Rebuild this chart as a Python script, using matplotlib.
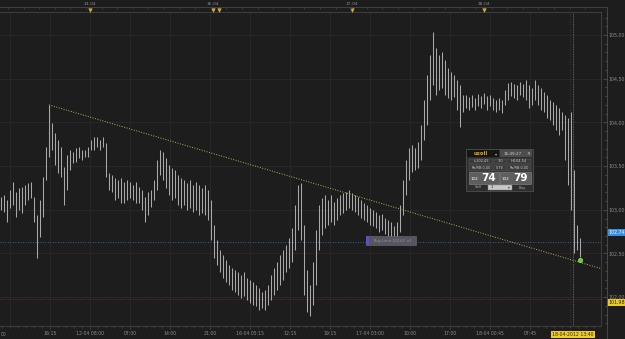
import numpy as np
import matplotlib
matplotlib.use("Agg")
import matplotlib.pyplot as plt
from matplotlib.patches import Rectangle
from matplotlib.ticker import FixedLocator, FuncFormatter
from matplotlib.transforms import blended_transform_factory

# USOIL bars, high / low (one entry per ~3 px column)
bar_high = [
    103.15, 103.17, 103.11, 103.23, 103.32, 103.20, 103.25, 103.26, 103.28, 103.31,
    103.32, 103.15, 102.94, 103.11, 103.38, 103.72, 104.20, 103.99, 103.88, 103.80,
    103.72, 103.49, 103.63, 103.68, 103.66, 103.71, 103.72, 103.68, 103.68, 103.72,
    103.80, 103.83, 103.83, 103.80, 103.83, 103.76, 103.42, 103.40, 103.36, 103.34,
    103.36, 103.32, 103.34, 103.32, 103.28, 103.32, 103.26, 103.23, 103.15, 103.20,
    103.23, 103.34, 103.57, 103.68, 103.66, 103.59, 103.51, 103.48, 103.46, 103.40,
    103.36, 103.34, 103.31, 103.34, 103.28, 103.32, 103.28, 103.25, 103.28, 103.23,
    103.11, 102.83, 102.65, 102.54, 102.48, 102.43, 102.37, 102.33, 102.31, 102.29,
    102.25, 102.29, 102.22, 102.20, 102.17, 102.14, 102.11, 102.06, 102.08, 102.14,
    102.25, 102.33, 102.40, 102.48, 102.54, 102.60, 102.68, 102.79, 103.06, 103.28,
    103.31, 102.83, 102.31, 102.14, 102.40, 102.77, 103.06, 103.13, 103.17, 103.11,
    103.17, 103.09, 103.13, 103.17, 103.19, 103.20, 103.23, 103.19, 103.17, 103.15,
    103.11, 103.08, 103.06, 103.02, 103.00, 102.98, 102.94, 102.95, 102.91, 102.88,
    102.86, 102.81, 102.86, 103.06, 103.34, 103.57, 103.71, 103.74, 103.71, 103.78,
    103.97, 104.26, 104.54, 104.77, 105.03, 104.85, 104.77, 104.81, 104.71, 104.62,
    104.58, 104.54, 104.49, 104.43, 104.31, 104.31, 104.29, 104.31, 104.28, 104.32,
    104.30, 104.34, 104.30, 104.31, 104.28, 104.26, 104.28, 104.26, 104.37, 104.45,
    104.46, 104.44, 104.43, 104.46, 104.44, 104.49, 104.43, 104.39, 104.49, 104.43,
    104.39, 104.35, 104.31, 104.26, 104.23, 104.20, 104.16, 104.12, 104.08, 104.05,
    104.12, 103.46, 102.83, 102.68,
]
bar_low = [
    103.00, 102.98, 102.86, 103.02, 103.06, 102.92, 103.00, 102.96, 103.06, 103.11,
    103.13, 102.86, 102.45, 102.69, 102.92, 103.34, 103.60, 103.68, 103.51, 103.42,
    103.38, 103.06, 103.23, 103.46, 103.53, 103.55, 103.59, 103.57, 103.60, 103.60,
    103.68, 103.68, 103.72, 103.68, 103.72, 103.38, 103.23, 103.20, 103.11, 103.13,
    103.08, 103.08, 103.11, 103.13, 103.11, 103.08, 103.08, 103.00, 102.86, 102.94,
    103.03, 103.11, 103.23, 103.40, 103.34, 103.25, 103.17, 103.11, 103.13, 103.06,
    103.02, 103.06, 103.00, 103.02, 102.98, 103.00, 102.94, 102.96, 102.94, 102.88,
    102.65, 102.45, 102.37, 102.29, 102.22, 102.17, 102.14, 102.08, 102.06, 102.03,
    101.99, 102.01, 101.97, 101.93, 101.91, 101.90, 101.85, 101.88, 101.85, 101.91,
    101.97, 102.03, 102.08, 102.14, 102.20, 102.29, 102.33, 102.40, 102.54, 102.77,
    102.65, 102.03, 101.83, 101.78, 101.91, 102.14, 102.54, 102.71, 102.79, 102.83,
    102.86, 102.83, 102.88, 102.94, 102.96, 103.00, 103.02, 103.00, 102.98, 102.94,
    102.91, 102.88, 102.86, 102.83, 102.81, 102.79, 102.75, 102.77, 102.72, 102.70,
    102.68, 102.63, 102.65, 102.75, 102.94, 103.17, 103.34, 103.43, 103.46, 103.48,
    103.57, 103.80, 103.97, 104.26, 104.43, 104.31, 104.37, 104.39, 104.31, 104.28,
    104.26, 104.29, 104.14, 103.95, 104.12, 104.16, 104.14, 104.18, 104.14, 104.19,
    104.16, 104.21, 104.14, 104.19, 104.14, 104.12, 104.14, 104.11, 104.20, 104.26,
    104.30, 104.28, 104.26, 104.31, 104.29, 104.26, 104.16, 104.20, 104.26, 104.20,
    104.14, 104.12, 104.05, 104.03, 103.97, 103.91, 103.86, 103.91, 103.57, 103.28,
    103.00, 102.51, 102.54, 102.46,
]

# time axis, in bar index units
time_labels = ["16:15", "12-04 08:00", "07:00", "14:00", "21:00", "16-04 05:15",
               "12:15", "19:15", "17-04 03:00", "10:00", "17:00", "18-04 00:45", "07:45"]
first_grid = 3
grid_step = 40 / 3
day_labels = ["13-04", "16-04", "17-04", "18-04"]
day_pos = [29.67, 70.67, 117, 161]
news_pos = [29.67, 70.67, 72.67, 117, 161]
cursor_pos = 190.67
cursor_label = "18-04-2012 13:40"

price_ticks = [102.0, 102.5, 103.0, 103.5, 104.0, 104.5, 105.0]
trend_x = [16, 199.7]
trend_y = [104.20, 102.33]
alert_level = 102.63
stop_level = 101.98
bid_price = 102.74
stop_label = "101,98"

BG = "#1d1d1d"
GRID = "#2a2a2a"
TXT = "#8c8c8c"

fig = plt.figure(figsize=(6.25, 3.39), dpi=100, facecolor=BG)
ax = fig.add_axes([0, 13 / 339, 601 / 625, 314 / 339])
ax.set_facecolor(BG)

idx = np.arange(len(bar_high))
ax.set_xlim(-1 / 3, 200)
ax.set_ylim(101.67, 105.263)

grid_pos = [first_grid + k * grid_step for k in range(15)]
for g in grid_pos:
    ax.axvline(g, color=GRID, lw=0.6, zorder=0)
for p in price_ticks:
    ax.axhline(p, color=GRID, lw=0.6, zorder=0)

ax.vlines(idx, bar_low, bar_high, color="#a9a9a9", lw=0.75, zorder=3)

# trend line and levels
ax.plot(trend_x, trend_y, color="#b8b24a", lw=0.7, ls=(0, (1, 1.6)), zorder=4)
ax.axhline(alert_level, color="#3b78b5", lw=0.6, ls=(0, (1, 2)), zorder=2)
ax.axhline(stop_level, color="#8a2e2e", lw=0.6, ls=(0, (1, 2)), zorder=2)
ax.axvline(cursor_pos, color="#777777", lw=0.6, ls=(0, (1, 1)), zorder=2)
ax.plot(idx[-1], bar_low[-1] - 0.03, "o", color="#66cc33", ms=3.2, mec="#9ee06a", mew=0.4, zorder=5)

# pending order tag on the alert line
tag_x0, tag_x1 = 121.7, 138.3
ax.add_patch(Rectangle((tag_x0, alert_level - 0.035), tag_x1 - tag_x0, 0.1,
                       fc="#56565e", ec="#6c6c78", lw=0.4, zorder=6))
ax.add_patch(Rectangle((tag_x0, alert_level - 0.035), 1.0, 0.1, fc="#5a4ed4", ec="none", zorder=7))
ax.text((tag_x0 + tag_x1) / 2 + 0.5, alert_level + 0.015, "Buy Limit 102,63  x1",
        fontsize=2.6, color="#9898a6", ha="center", va="center", zorder=7)

# bottom time axis
ax.set_xticks(grid_pos[1:14])
ax.set_xticklabels(time_labels)
ax.xaxis.set_minor_locator(FixedLocator(np.arange(first_grid - grid_step, 201, grid_step / 5)))
ax.tick_params(axis="x", which="both", colors="#555555", labelcolor=TXT, labelsize=3.3,
               length=2.5, width=0.5, pad=1.2, direction="out")
ax.tick_params(axis="x", which="minor", length=1.5)
trans_bot = blended_transform_factory(ax.transData, fig.transFigure)
ax.text(-0.2, 1 - 334.5 / 339, "00", transform=trans_bot, fontsize=3.3, color=TXT,
        ha="left", va="center", clip_on=False)
ax.text(cursor_pos, 1 - 334.5 / 339, cursor_label, transform=trans_bot, fontsize=3.3,
        color="#222222", ha="center", va="center", clip_on=False,
        bbox=dict(boxstyle="square,pad=0.25", fc="#f0cc22", ec="none"))

# right price axis
ax.yaxis.tick_right()
ax.set_yticks(price_ticks)
ax.yaxis.set_minor_locator(FixedLocator(np.arange(101.7, 105.3, 0.1)))
ax.yaxis.set_major_formatter(FuncFormatter(lambda v, pos: f"{v:.2f}".replace(".", ",")))
ax.spines["right"].set_position(("outward", 4.3))
ax.tick_params(axis="y", which="both", colors="#5a5a5a", labelcolor=TXT, labelsize=3.4,
               direction="in", length=3, width=0.5, pad=1)
ax.tick_params(axis="y", which="minor", length=1.5)
for s in ["top", "bottom"]:
    ax.spines[s].set_color("#3c3c3c")
    ax.spines[s].set_linewidth(0.8)
ax.spines["right"].set_color("#4a4a4a")
ax.spines["right"].set_linewidth(0.6)
ax.spines["left"].set_visible(False)

trans_right = blended_transform_factory(ax.transAxes, ax.transData)
ax.text(1.0116, bid_price, f"{bid_price:.2f}".replace(".", ","), transform=trans_right,
        fontsize=3.4, color="#e8f4ff", ha="left", va="center", clip_on=False,
        bbox=dict(boxstyle="square,pad=0.25", fc="#3a8de0", ec="none"))
ax.text(1.0116, stop_level - 0.04, stop_label, transform=trans_right,
        fontsize=3.4, color="#222222", ha="left", va="center", clip_on=False,
        bbox=dict(boxstyle="square,pad=0.25", fc="#f0cc22", ec="none"))

# top day strip
trans_top = blended_transform_factory(ax.transData, fig.transFigure)
for lab, pos in zip(day_labels, day_pos):
    ax.text(pos, 1 - 4 / 339, lab, transform=trans_top, fontsize=3.2, color=TXT,
            ha="center", va="center", clip_on=False)
ax.plot(news_pos, [1 - 9.5 / 339] * len(news_pos), "v", color="#d9a523", ms=2.6,
        mec="#f0c850", mew=0.3, transform=trans_top, clip_on=False, zorder=6)

# overlay in pixel units for frame lines and the trade widget
ov = fig.add_axes([0, 0, 1, 1], zorder=5)
ov.set_xlim(0, 625)
ov.set_ylim(339, 0)
ov.axis("off")
ov.patch.set_alpha(0)

ov.plot([0, 607], [7, 7], color="#474747", lw=0.6)
ov.vlines(np.arange(8, 600, 15.6), 7, 8.5, color="#444444", lw=0.5)
ov.plot([601, 601], [12, 326], color="#3c3c3c", lw=0.8)
ov.plot([607, 607], [7, 339], color="#4a4a4a", lw=0.6)


def box(x0, y0, x1, y1, fc, ec="none", lw=0.4):
    ov.add_patch(Rectangle((x0, y0), x1 - x0, y1 - y0, fc=fc, ec=ec, lw=lw))


def txt(x, y, s, size, color="#cccccc", ha="center", weight="normal"):
    ov.text(x, y, s, fontsize=size, color=color, ha=ha, va="center", fontweight=weight)


box(466, 149, 533, 191, "#2e2e2e", "#575757", 0.5)
box(467, 150, 499, 157, "#151515")
txt(474, 153.6, "usoil", 3.8, "#e0a820", "left", "bold")
txt(496, 153.6, "▾", 3, "#bbbbbb")
box(500, 150, 532, 157, "#4c4c4c")
txt(513, 153.6, "16:49:27", 3, "#cfcfcf")
txt(528, 153.6, "×", 3.4, "#cfcfcf")

row2 = ["L:102,43", "3,0", "H:104,54"]
row3 = ["Rs/RB:0,00", "0,76", "Rs/RB:0,00"]
cells = [(469, 493), (494, 506), (507, 531)]
for (c0, c1), a, b in zip(cells, row2, row3):
    box(c0, 158.5, c1, 164, "#3a3a3a", "#666666", 0.3)
    box(c0, 165, c1, 170.5, "#3a3a3a", "#666666", 0.3)
    txt((c0 + c1) / 2, 161.3, a, 2.5)
    txt((c0 + c1) / 2, 167.8, b, 2.5)

box(469, 171.5, 498.5, 184, "#5e5e5e", "#8c8c8c", 0.4)
box(500, 171.5, 531, 184, "#5e5e5e", "#8c8c8c", 0.4)
txt(474.5, 179, "102", 3, "#ffffff")
txt(488.5, 177.6, "74", 7.5, "#ffffff", weight="bold")
txt(505.5, 179, "102", 3, "#ffffff")
txt(520, 177.6, "79", 7.5, "#ffffff", weight="bold")

txt(478, 187.5, "Sell", 2.8, "#aaaaaa")
box(488, 185, 512, 190, "#c8c8c8", "#888888", 0.3)
txt(492, 187.5, "1", 2.8, "#222222")
txt(509, 187.5, "▾", 2.6, "#444444")
txt(522, 187.5, "Buy", 2.8, "#aaaaaa")

fig.savefig("out.png", dpi=100, facecolor=BG)
